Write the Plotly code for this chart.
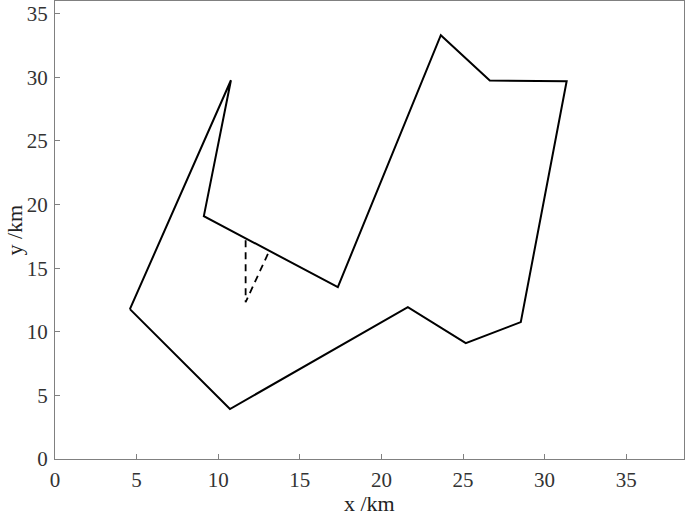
import plotly.graph_objects as go

# Polygon route vertices (km)
route_x = [4.59, 10.78, 9.12, 17.33, 23.64, 26.64, 31.35, 28.54, 25.17, 21.62, 10.72, 4.59]
route_y = [11.78, 29.77, 19.09, 13.51, 33.31, 29.75, 29.69, 10.76, 9.11, 11.94, 3.93, 11.78]

# Dashed segments
dash_x = [11.68, 11.68, 13.06]
dash_y = [17.2, 12.33, 16.16]

x_ticks = [0, 5, 10, 15, 20, 25, 30, 35]
y_ticks = [0, 5, 10, 15, 20, 25, 30, 35]

fig = go.Figure()
fig.add_trace(go.Scatter(x=route_x, y=route_y, mode="lines",
                         line=dict(color="black", width=2), showlegend=False))
fig.add_trace(go.Scatter(x=dash_x, y=dash_y, mode="lines",
                         line=dict(color="black", width=1.8, dash="7px,5px"), showlegend=False))

fam = "Liberation Serif"
font = dict(family=fam, size=21, color="#333333")
title_font = dict(family=fam, size=22, color="#222222")
axis_common = dict(showgrid=False, zeroline=False, showline=True, linecolor="#808080",
                   linewidth=1.2, mirror=True, ticks="inside", ticklen=5, tickcolor="#808080",
                   tickfont=font, automargin=False)

fig.update_layout(
    width=685, height=515,
    margin=dict(l=55, r=1, t=1, b=56),
    plot_bgcolor="white", paper_bgcolor="white",
    xaxis=dict(range=[0, 38.54], tickvals=x_ticks, ticklabelstandoff=2, **axis_common),
    yaxis=dict(range=[0, 36], tickvals=y_ticks, ticklabelstandoff=2, **axis_common),
    annotations=[
        dict(text="x /km", xref="paper", yref="paper", x=0.5, y=-0.097,
             xanchor="center", yanchor="middle", showarrow=False, font=title_font),
        dict(text="y /km", xref="paper", yref="paper", x=-0.0658, y=0.5, textangle=-90,
             xanchor="center", yanchor="middle", showarrow=False, font=title_font),
    ],
)

fig.write_html("out.html", config={"displayModeBar": False},
               post_script="document.body.style.margin='0';document.body.style.overflow='hidden';")
